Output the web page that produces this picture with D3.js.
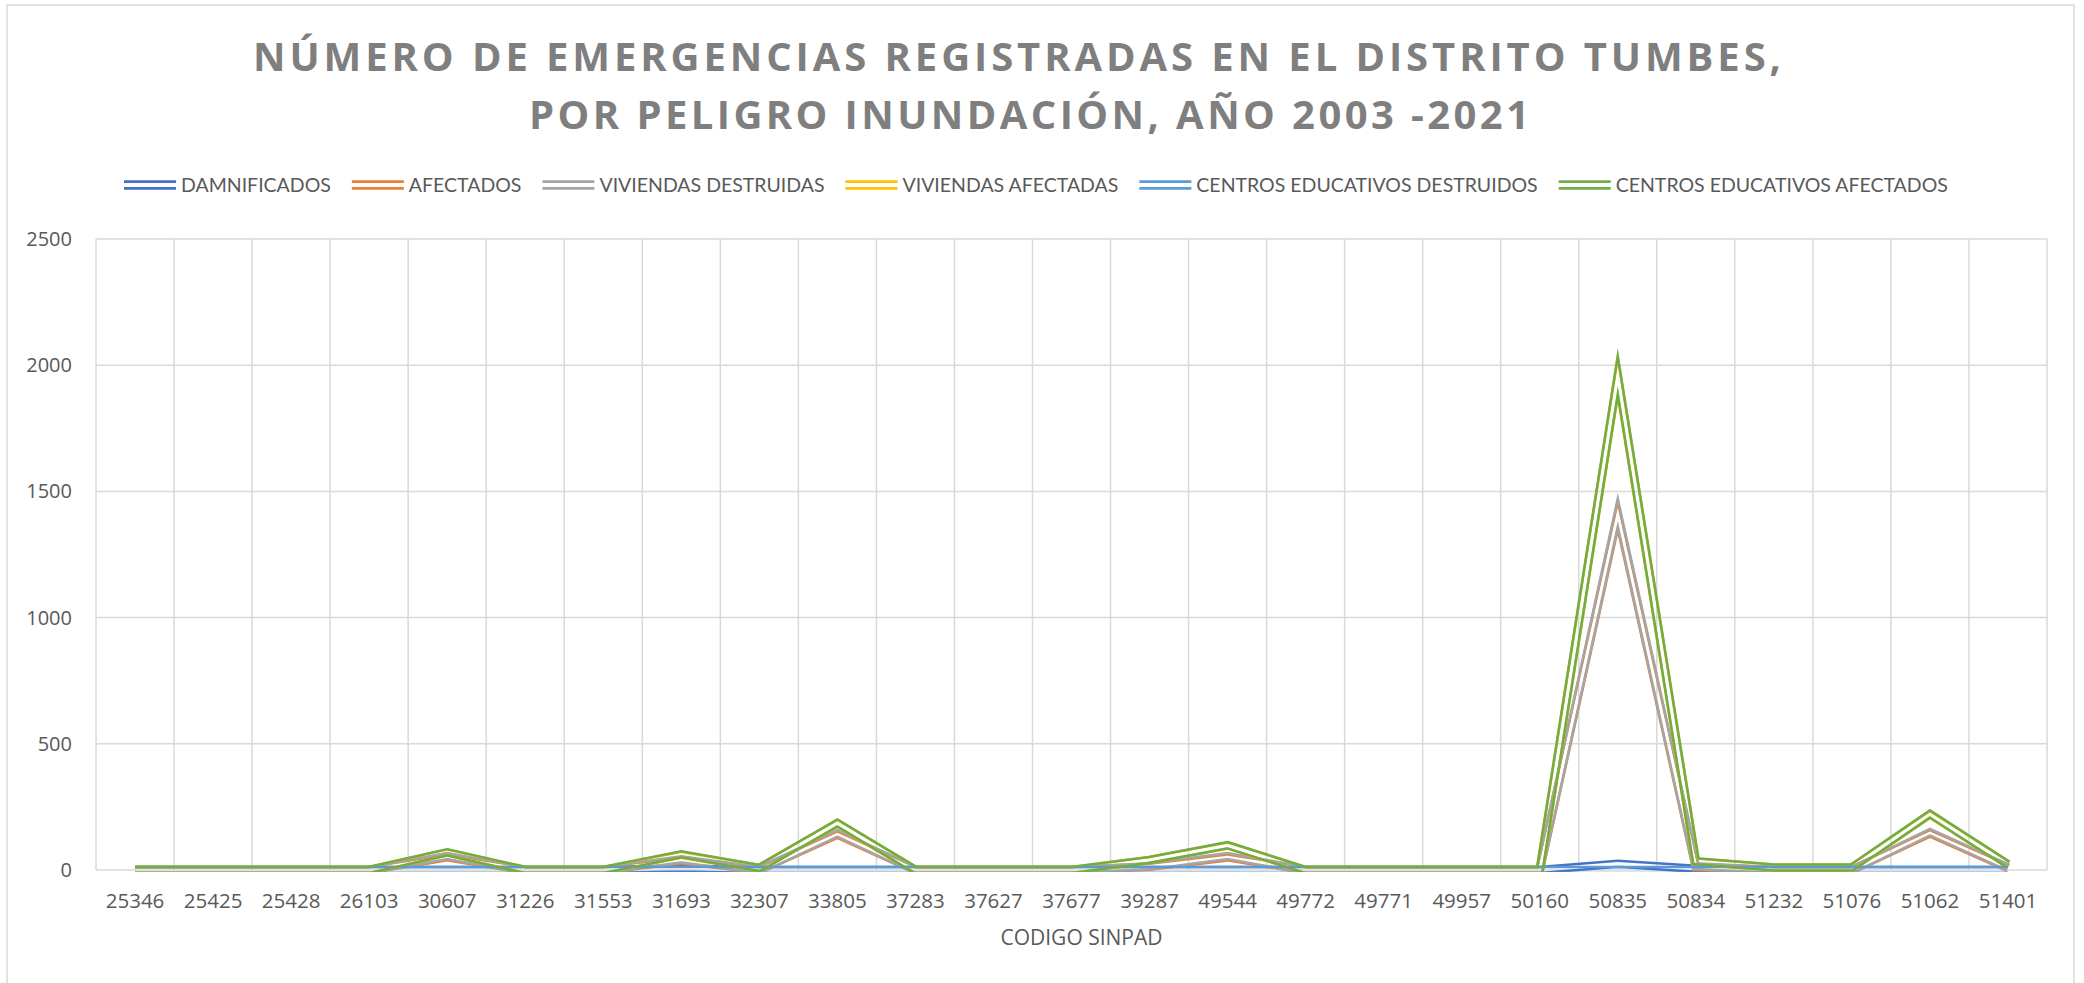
<!DOCTYPE html>
<html>
<head>
<meta charset="utf-8">
<script src="https://cdnjs.cloudflare.com/ajax/libs/d3/7.8.5/d3.min.js"></script>
<style>
  body { margin: 0; background: #fff; }
  text { font-family: "Open Sans", "Noto Sans", sans-serif; }
</style>
</head>
<body>
<div id="graph"></div>
<script>
// data
let codes = ["25346","25425","25428","26103","30607","31226","31553","31693","32307","33805",
             "37283","37627","37677","39287","49544","49772","49771","49957","50160","50835",
             "50834","51232","51076","51062","51401"];

let damnificados        = [0,0,0,0,0,0,0,6,0,0,0,0,0,0,0,0,0,0,0,25,5,0,0,0,0];
let afectados           = [0,0,0,0,50,0,0,38,0,140,0,0,0,13,50,0,0,0,0,1405,12,0,0,145,8];
let viviendasDestruidas = [0,0,0,0,55,0,0,42,0,145,0,0,0,15,55,0,0,0,0,1415,15,0,0,150,10];
let viviendasAfectadas  = [0,0,0,0,70,0,0,60,8,185,0,0,0,40,97,0,0,0,0,1955,34,10,10,220,22];
let centrosDestruidos   = [0,0,0,0,0,0,0,0,0,0,0,0,0,0,0,0,0,0,0,0,0,0,0,0,0];
let centrosAfectados    = [0,0,0,0,70,0,0,62,8,186,0,0,0,40,98,0,0,0,0,1960,35,10,10,222,22];

let seriesNames  = ["DAMNIFICADOS","AFECTADOS","VIVIENDAS DESTRUIDAS","VIVIENDAS AFECTADAS",
                    "CENTROS EDUCATIVOS DESTRUIDOS","CENTROS EDUCATIVOS AFECTADOS"];
let seriesValues = [damnificados, afectados, viviendasDestruidas, viviendasAfectadas,
                    centrosDestruidos, centrosAfectados];
let seriesColors = ["#4472C4","#ED7D31","#A5A5A5","#FFC000","#5B9BD5","#70AD47"];
let yTicks = [0, 500, 1000, 1500, 2000, 2500];

let width = 2084, height = 983;
let plot = {left: 96, right: 2047, top: 239, bottom: 870};

let svg = d3.select("#graph")
    .append("svg")
    .attr("width", width)
    .attr("height", height)
    .style("display", "block");

svg.append("rect")
    .attr("x", 7).attr("y", 5)
    .attr("width", 2067).attr("height", 990)
    .attr("fill", "#fff")
    .attr("stroke", "#d9d9d9")
    .attr("stroke-width", 1.5);

let x = d3.scaleBand()
    .domain(codes)
    .range([plot.left, plot.right]);

let y = d3.scaleLinear()
    .domain([0, 2500])
    .range([plot.bottom, plot.top]);

// gridlines
svg.append("g")
    .selectAll("line")
    .data(yTicks)
    .enter()
    .append("line")
    .attr("x1", plot.left).attr("x2", plot.right)
    .attr("y1", d => y(d)).attr("y2", d => y(d))
    .attr("stroke", "#d9d9d9")
    .attr("stroke-width", 1.5);

let bounds = codes.map(d => x(d)).concat([plot.right]);
svg.append("g")
    .selectAll("line")
    .data(bounds)
    .enter()
    .append("line")
    .attr("x1", d => d).attr("x2", d => d)
    .attr("y1", plot.top).attr("y2", plot.bottom)
    .attr("stroke", "#d9d9d9")
    .attr("stroke-width", 1.5);

// axes (labels only, Excel style)
let yAxis = svg.append("g")
    .attr("transform", `translate(${plot.left},0)`)
    .call(d3.axisLeft(y).tickValues(yTicks).tickSize(0).tickPadding(24).tickFormat(d3.format("d")));
yAxis.select(".domain").remove();
yAxis.selectAll("text")
    .style("font-family", '"Open Sans", sans-serif')
    .style("font-size", "20px")
    .attr("fill", "#595959");

let xAxis = svg.append("g")
    .attr("transform", `translate(0,${plot.bottom})`)
    .call(d3.axisBottom(x).tickSize(0).tickPadding(23));
xAxis.select(".domain").remove();
xAxis.selectAll("text")
    .style("font-family", '"Open Sans", sans-serif')
    .style("font-size", "20.5px")
    .attr("fill", "#595959");

svg.append("text")
    .attr("x", (plot.left + plot.right) / 2 + 10)
    .attr("y", 945)
    .attr("text-anchor", "middle")
    .style("font-family", '"Open Sans", sans-serif')
    .style("font-size", "21px")
    .attr("fill", "#595959")
    .text("CODIGO SINPAD");

// double (compound) lines: wide stroke with a transparent gap cut by a mask
let defs = svg.append("defs");
defs.append("clipPath")
    .attr("id", "plotclip")
    .append("rect")
    .attr("x", plot.left - 10).attr("y", plot.top - 40)
    .attr("width", plot.right - plot.left + 20)
    .attr("height", plot.bottom - plot.top + 42);

let line = d3.line()
    .x((d, i) => x(codes[i]) + x.bandwidth() / 2)
    .y(d => y(d));

let lineW = 8.6, gapW = 3.4;
let lines = svg.append("g").attr("clip-path", "url(#plotclip)");

seriesValues.forEach(function(vals, i) {
    let mask = defs.append("mask")
        .attr("id", "gap" + i)
        .attr("maskUnits", "userSpaceOnUse")
        .attr("x", 0).attr("y", 0)
        .attr("width", width).attr("height", height);
    mask.append("rect")
        .attr("width", width).attr("height", height)
        .attr("fill", "#fff");
    mask.append("path")
        .attr("d", line(vals))
        .attr("fill", "none")
        .attr("stroke", "#000")
        .attr("stroke-width", gapW)
        .attr("stroke-linejoin", "miter")
        .attr("stroke-miterlimit", 12);

    lines.append("path")
        .attr("d", line(vals))
        .attr("fill", "none")
        .attr("stroke", seriesColors[i])
        .attr("stroke-width", lineW)
        .attr("stroke-linejoin", "miter")
        .attr("stroke-miterlimit", 12)
        .attr("mask", `url(#gap${i})`);
});

// title
let titleLines = ["NÚMERO DE EMERGENCIAS REGISTRADAS EN EL DISTRITO TUMBES,",
                  "POR PELIGRO INUNDACIÓN, AÑO 2003 -2021"];
let titleBase = [71, 129];
let titleLen = [1528, 1000];
let titleX = [1017, 1029];
svg.append("g")
    .selectAll("text")
    .data(titleLines)
    .enter()
    .append("text")
    .attr("x", (d, i) => titleX[i])
    .attr("y", (d, i) => titleBase[i])
    .attr("text-anchor", "middle")
    .attr("textLength", (d, i) => titleLen[i])
    .attr("lengthAdjust", "spacing")
    .style("font-family", '"Open Sans", sans-serif')
    .style("font-weight", "bold")
    .style("font-size", "40px")
    .attr("fill", "#7f7f7f")
    .text(d => d);

// legend
let legend = svg.append("g");
let lx = 124, ly = 185;
seriesNames.forEach(function(name, i) {
    let item = legend.append("g").attr("transform", `translate(${lx},${ly})`);
    [-3.3, 3.3].forEach(function(off) {
        item.append("line")
            .attr("x1", 0).attr("x2", 52)
            .attr("y1", off).attr("y2", off)
            .attr("stroke", seriesColors[i])
            .attr("stroke-width", 2.8);
    });
    let t = item.append("text")
        .attr("x", 57)
        .attr("y", 7)
        .style("font-family", "Lato, sans-serif")
        .style("font-size", "19.5px")
        .attr("fill", "#595959")
        .text(name);
    lx += 57 + t.node().getComputedTextLength() + 21;
});
</script>
</body>
</html>
